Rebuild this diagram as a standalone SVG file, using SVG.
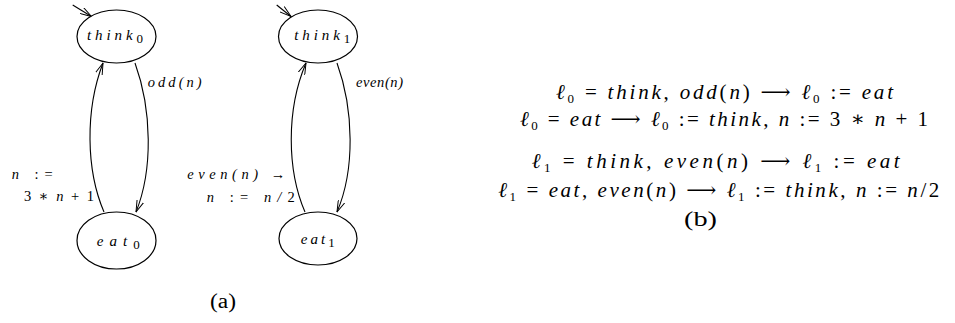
<svg xmlns="http://www.w3.org/2000/svg" width="955" height="323" viewBox="0 0 955 323" font-family="'Liberation Serif', 'DejaVu Serif', serif">
<style>
text{font-family:"Liberation Serif","DejaVu Serif",serif;fill:#000}
.i{font-style:italic}
.lbl{font-size:14.5px;font-style:italic}
.math{font-size:21px}
.sub{font-size:13px;font-style:normal}
.node ellipse{fill:#fff;stroke:#000;stroke-width:1.2}
.edge{fill:none;stroke:#000;stroke-width:1.1;marker-end:url(#arr)}
</style>
<defs>
<marker id="arr" viewBox="0 0 12 8" refX="11.5" refY="4" markerWidth="12" markerHeight="8" markerUnits="userSpaceOnUse" orient="auto">
<path d="M0,0.5 L11.5,4 L0,7.5" fill="none" stroke="#000" stroke-width="1"/>
</marker>
</defs>
<rect width="955" height="323" fill="#fff"/>
<g id="connectors">
<path class="edge" d="M72.7,5 L91.5,16.5"/>
<path class="edge" d="M276.7,5 L291,16.5"/>
<path class="edge" d="M135,63 C152,110 153,170 136,212"/>
<path class="edge" d="M104,212 C86,170 85,110 103,63"/>
<path class="edge" d="M337,63 C354,110 355,170 337,212"/>
<path class="edge" d="M305,212 C287,170 286,110 306,63"/>
</g>
<g id="think0" class="node">
<ellipse cx="116.5" cy="36.5" rx="39.5" ry="26.5"/>
<text x="87" y="40" font-size="15" textLength="56" lengthAdjust="spacing"><tspan class="i">think</tspan><tspan class="sub" font-size="11" dy="3">0</tspan></text>
</g>
<g id="eat0" class="node">
<ellipse cx="116.5" cy="240.5" rx="39.5" ry="28.5"/>
<text x="96.7" y="246" font-size="15" textLength="43" lengthAdjust="spacing"><tspan class="i">eat</tspan><tspan class="sub" font-size="11" dy="3">0</tspan></text>
</g>
<g id="think1" class="node">
<ellipse cx="318" cy="36.5" rx="39.5" ry="26.5"/>
<text x="294.3" y="40" font-size="15" textLength="56" lengthAdjust="spacing"><tspan class="i">think</tspan><tspan class="sub" font-size="11" dy="3">1</tspan></text>
</g>
<g id="eat1" class="node">
<ellipse cx="318" cy="238.5" rx="39" ry="26.5"/>
<text x="300.7" y="244" font-size="15" textLength="34" lengthAdjust="spacing"><tspan class="i">eat</tspan><tspan class="sub" font-size="11" dy="3">1</tspan></text>
</g>
<g id="edge-labels">
<text class="lbl" x="147.7" y="87" textLength="54" lengthAdjust="spacing">odd(n)</text>
<text class="lbl" x="356" y="87" textLength="47" lengthAdjust="spacing">even(n)</text>
<text class="lbl" x="11.7" y="178.5" textLength="41" lengthAdjust="spacing">n <tspan font-style="normal">:=</tspan></text>
<text class="lbl" x="24" y="201" textLength="70" lengthAdjust="spacing"><tspan font-style="normal">3 ∗ </tspan>n<tspan font-style="normal"> + 1</tspan></text>
<text class="lbl" x="187.3" y="179" textLength="98" lengthAdjust="spacing">even(n) <tspan font-style="normal">→</tspan></text>
<text class="lbl" x="206.7" y="201.5" textLength="88" lengthAdjust="spacing">n <tspan font-style="normal">:=</tspan> n/<tspan font-style="normal">2</tspan></text>
<text x="210" y="308" font-size="20" textLength="26" lengthAdjust="spacingAndGlyphs">(a)</text>
</g>
<g id="rules">
<text class="math" x="556" y="98.5" textLength="337" lengthAdjust="spacing"><tspan class="i">ℓ</tspan><tspan class="sub" dy="4">0</tspan><tspan dy="-4"> = </tspan><tspan class="i">think</tspan>,  <tspan class="i">odd</tspan>(<tspan class="i">n</tspan>)   ⟶   <tspan class="i">ℓ</tspan><tspan class="sub" dy="4">0</tspan><tspan dy="-4"> := </tspan><tspan class="i">eat</tspan></text>
<text class="math" x="520" y="126" textLength="408" lengthAdjust="spacing"><tspan class="i">ℓ</tspan><tspan class="sub" dy="4">0</tspan><tspan dy="-4"> = </tspan><tspan class="i">eat</tspan>   ⟶   <tspan class="i">ℓ</tspan><tspan class="sub" dy="4">0</tspan><tspan dy="-4"> := </tspan><tspan class="i">think</tspan>,  <tspan class="i">n</tspan> := 3 ∗ <tspan class="i">n</tspan> + 1</text>
<text class="math" x="531.7" y="168.3" textLength="368" lengthAdjust="spacing"><tspan class="i">ℓ</tspan><tspan class="sub" dy="4">1</tspan><tspan dy="-4"> = </tspan><tspan class="i">think</tspan>,  <tspan class="i">even</tspan>(<tspan class="i">n</tspan>)   ⟶   <tspan class="i">ℓ</tspan><tspan class="sub" dy="4">1</tspan><tspan dy="-4"> := </tspan><tspan class="i">eat</tspan></text>
<text class="math" x="498.3" y="196.7" textLength="441" lengthAdjust="spacing"><tspan class="i">ℓ</tspan><tspan class="sub" dy="4">1</tspan><tspan dy="-4"> = </tspan><tspan class="i">eat</tspan>,  <tspan class="i">even</tspan>(<tspan class="i">n</tspan>)   ⟶   <tspan class="i">ℓ</tspan><tspan class="sub" dy="4">1</tspan><tspan dy="-4"> := </tspan><tspan class="i">think</tspan>,  <tspan class="i">n</tspan> := <tspan class="i">n</tspan>/2</text>
<text class="math" x="684" y="226" font-size="20" textLength="33" lengthAdjust="spacingAndGlyphs">(b)</text>
</g>
</svg>
